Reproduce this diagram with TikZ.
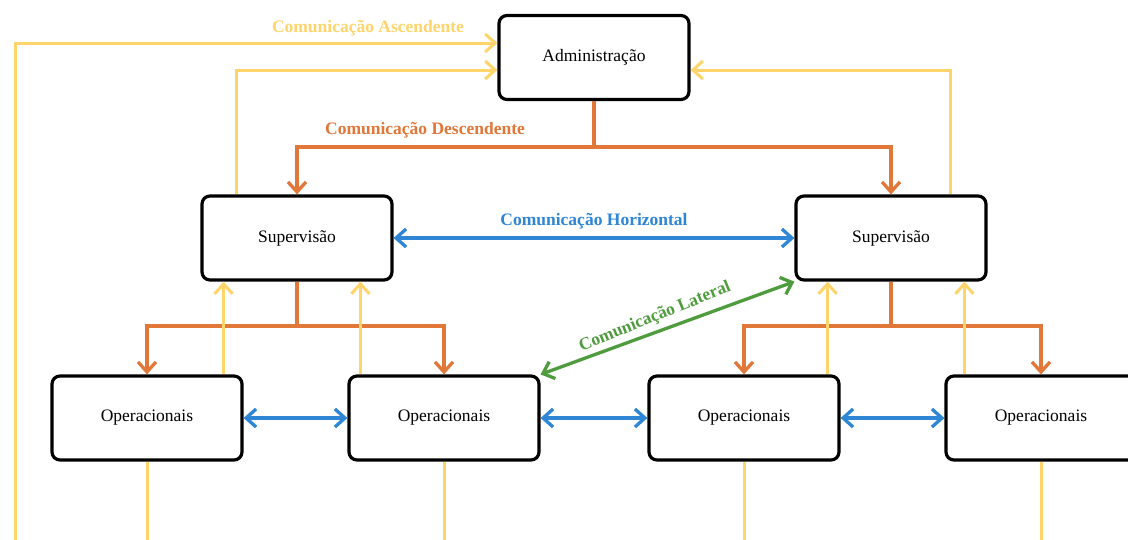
\documentclass[tikz,border=0pt]{standalone}
\usepackage{fontspec}
\setmainfont{Liberation Serif}
\usetikzlibrary{arrows.meta}
\definecolor{ascendc}{HTML}{FFD56B}
\definecolor{descendc}{HTML}{E2773A}
\definecolor{horizc}{HTML}{2F86D5}
\definecolor{lateralc}{HTML}{4F9C3E}
\begin{document}
\begin{tikzpicture}[x=1pt,y=-1pt,
  unit/.style={draw=black, line width=3.2pt, rounded corners=8pt, fill=white,
    minimum width=190pt, minimum height=84pt, inner sep=0pt,
    font=\fontsize{17.5}{20}\selectfont},
  flowlabel/.style={font=\fontsize{17.5}{20}\selectfont\bfseries, inner sep=1pt},
  up/.style={draw=ascendc, line width=3pt, -{Straight Barb[length=10pt,width=18pt]}},
  upline/.style={draw=ascendc, line width=3pt},
  down/.style={draw=descendc, line width=3.3pt, -{Straight Barb[length=10pt,width=18pt]}},
  side/.style={draw=horizc, line width=3.3pt, {Straight Barb[length=10pt,width=18pt]}-{Straight Barb[length=10pt,width=18pt]}},
  diag/.style={draw=lateralc, line width=3.3pt, {Straight Barb[length=10pt,width=18pt]}-{Straight Barb[length=10pt,width=18pt]}},
]
\useasboundingbox (0,0) rectangle (1128,539);
\clip (0,0) rectangle (1128,539);
\fill[white] (0,0) rectangle (1128,539);

% hierarchy boxes
\node[unit] (adm) at (594,57.5) {Administração};
\node[unit] (supL) at (297,238) {Supervisão};
\node[unit] (supR) at (891,238) {Supervisão};
\node[unit] (op1) at (147,418) {Operacionais};
\node[unit] (op2) at (444,418) {Operacionais};
\node[unit] (op3) at (744,418) {Operacionais};
\node[unit] (op4) at (1041,418) {Operacionais};

% junctions and off-edge ends
\coordinate (jTop) at (594,147);
\coordinate (jL) at (297,326);
\coordinate (jR) at (891,326);
\coordinate (floor) at (0,548);
\coordinate (outer) at (15,548);

% descending communication
\draw[down] (adm.south) -- (jTop) -| (supL.north);
\draw[down] (jTop) -| (supR.north);
\draw[down] (supL.south) -- (jL) -| (op1.north);
\draw[down] (jL) -| (op2.north);
\draw[down] (supR.south) -- (jR) -| (op3.north);
\draw[down] (jR) -| (op4.north);

% ascending communication
\coordinate (u1) at ([xshift=-20pt]op1.north east);
\coordinate (u2) at ([xshift=13pt]op2.north west);
\coordinate (u3) at ([xshift=-13pt]op3.north east);
\coordinate (u4) at ([xshift=20pt]op4.north west);
\draw[up] (u1) -- (u1 |- supL.south);
\draw[up] (u2) -- (u2 |- supL.south);
\draw[up] (u3) -- (u3 |- supR.south);
\draw[up] (u4) -- (u4 |- supR.south);
\coordinate (a1) at ([xshift=36pt]supL.north west);
\coordinate (a2) at ([xshift=-37pt]supR.north east);
\draw[up] (a1) |- ([yshift=-12.5pt]adm.west);
\draw[up] (a2) |- ([yshift=-12.5pt]adm.east);
\draw[up] (outer) |- ([yshift=14.5pt]adm.west);
\draw[upline] (op1.south) -- (op1.south |- floor);
\draw[upline] (op2.south) -- (op2.south |- floor);
\draw[upline] (op3.south) -- (op3.south |- floor);
\draw[upline] (op4.south) -- (op4.south |- floor);

% horizontal communication
\draw[side] (supL.east) -- (supR.west);
\draw[side] (op1.east) -- (op2.west);
\draw[side] (op2.east) -- (op3.west);
\draw[side] (op3.east) -- (op4.west);

% lateral communication
\draw[diag] (op2.north east) -- (supR.south west);

% flow labels
\node[flowlabel, text=ascendc] (tAsc) at (368,28) {Comunicação Ascendente};
\node[flowlabel, text=descendc] (tDesc) at (425,130) {Comunicação Descendente};
\node[flowlabel, text=horizc] (tHor) at (594,221) {Comunicação Horizontal};
\node[flowlabel, text=lateralc, rotate=22] (tLat) at (655,317) {Comunicação Lateral};
\end{tikzpicture}
\end{document}
